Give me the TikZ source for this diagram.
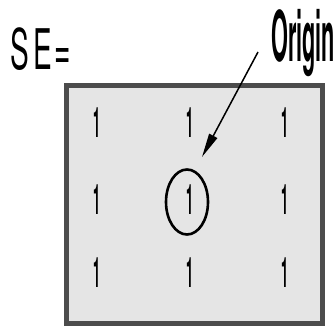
\documentclass[tikz,border=0pt]{standalone}
\usepackage{fontspec}
\setmainfont{TeX Gyre Heros}
\usetikzlibrary{arrows.meta,shapes.geometric}
\newcommand{\squeeze}[2]{\scalebox{#1}[1]{#2}}

\begin{document}
\begin{tikzpicture}[
  x=1pt, y=1pt,
  >={Triangle[length=24pt,width=9pt]},
  grid/.style={draw=black!70, fill=black!10, line width=5pt},
  entry/.style={inner sep=0pt, font=\bfseries\fontsize{42}{42}\selectfont},
  ring/.style={ellipse, draw=black, line width=2.6pt, minimum width=42pt, minimum height=65pt, inner sep=0pt},
  lab/.style={inner sep=0pt, anchor=base west},
  pointer/.style={->, line width=1.5pt}
]
\path[use as bounding box] (0,0) rectangle (336,327);

\draw[grid] (66.5,3.5) rectangle (322.5,241.5);

\foreach \c/\x in {1/97,2/190,3/285}
  \foreach \r/\y in {1/204,2/127,3/54}
    \node[entry] (e\r\c) at (\x,\y) {\squeeze{0.3}{1}};

\node[ring] (orig) at ([xshift=-3pt,yshift=-2pt]e22) {};

\node[lab, font=\fontsize{56}{56}\selectfont] (se) at (10,257) {\squeeze{0.5}{S\hspace{10pt}E\hspace{4pt}=}};
\node[lab, font=\bfseries\fontsize{70}{70}\selectfont] (origlab) at (271,265) {\squeeze{0.31}{Origin}};

\coordinate (tip) at (202,170);
\draw[pointer] ([shift={(-13,10)}]origlab.base west) -- (tip);
\end{tikzpicture}
\end{document}
